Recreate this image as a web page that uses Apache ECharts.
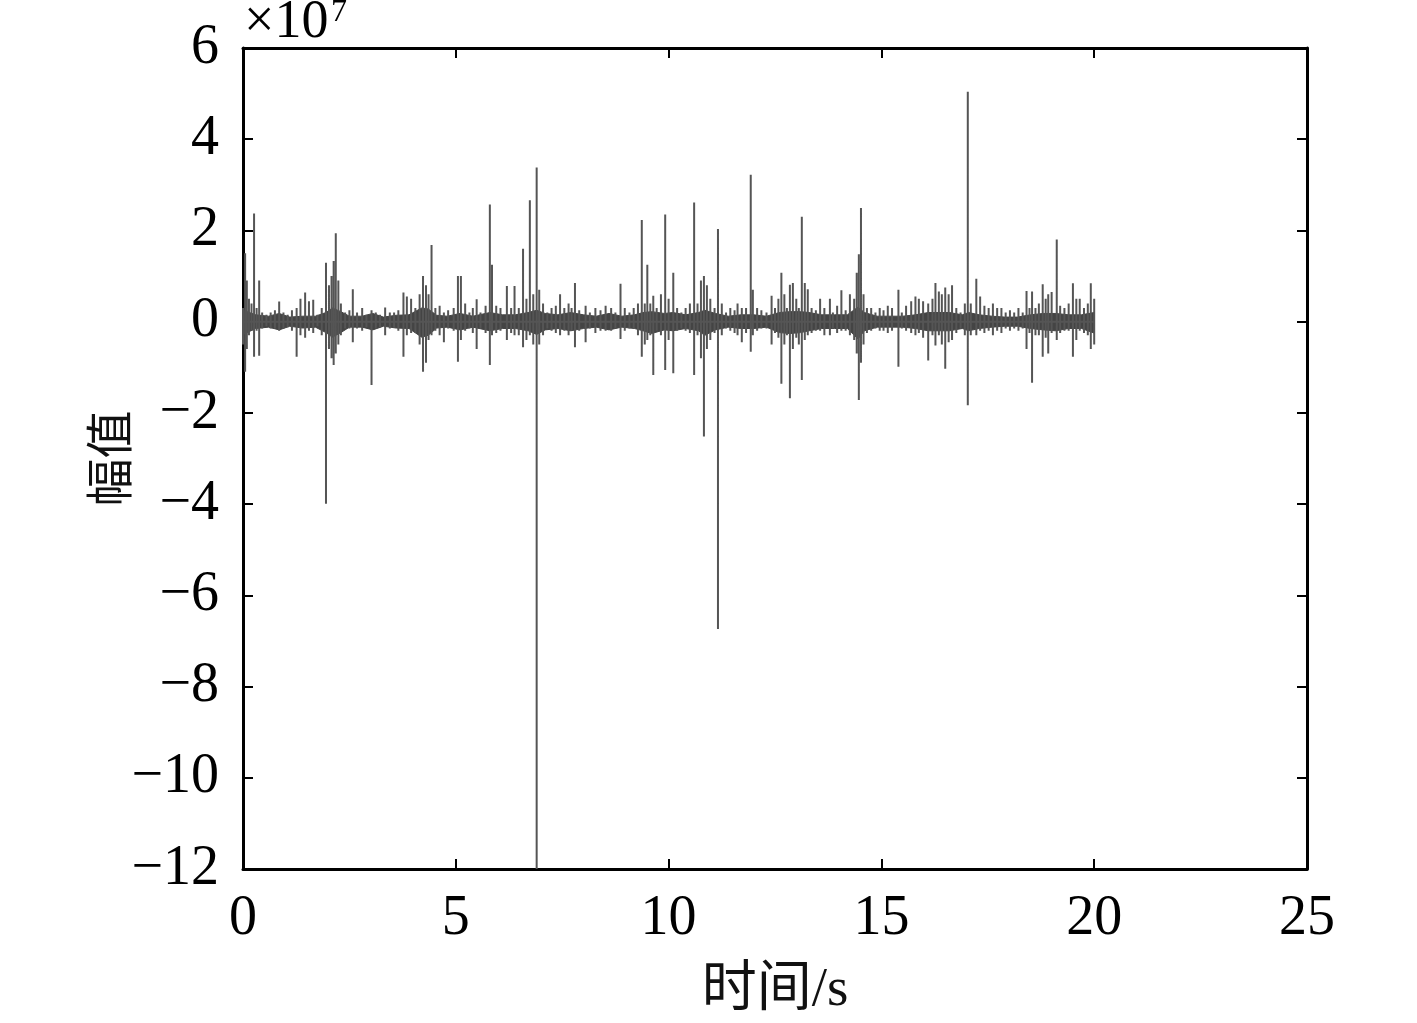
<!DOCTYPE html>
<html><head><meta charset="utf-8">
<script src="https://cdn.jsdelivr.net/npm/echarts@6/dist/echarts.min.js"></script>
<style>html,body{margin:0;padding:0;background:#fff;overflow:hidden}#c{width:1417px;height:1023px}</style>
</head><body><div id="c"></div>
<script>
// Time of each spike (s)
const times = [
0.00,0.05,0.09,0.14,0.20,0.26,0.32,0.38,0.45,0.55,0.65,0.75,0.85,0.95,
1.05,1.15,1.26,1.35,1.46,1.55,1.65,1.75,1.85,1.95,
2.02,2.08,2.13,2.18,2.24,2.30,2.40,2.50,2.58,2.68,2.80,2.90,
3.02,3.12,3.22,3.34,3.45,3.55,3.65,3.77,3.85,3.95,
4.05,4.15,4.23,4.30,4.36,4.43,4.52,4.62,4.72,4.82,4.95,
5.05,5.12,5.22,5.32,5.40,5.49,5.58,5.70,5.80,5.85,5.95,
6.05,6.20,6.30,6.38,6.48,6.58,6.66,6.74,6.82,6.90,6.96,
7.05,7.15,7.25,7.35,7.45,7.55,7.65,7.72,7.80,7.90,
8.05,8.15,8.28,8.40,8.52,8.65,8.75,8.87,8.97,
9.08,9.18,9.28,9.37,9.44,9.50,9.57,9.64,9.72,9.82,9.92,
10.00,10.11,10.20,10.30,10.40,10.50,10.60,10.68,10.76,10.83,10.90,10.98,
11.08,11.16,11.25,11.35,11.45,11.55,11.62,11.72,11.82,11.93,11.98,
12.08,12.18,12.30,12.42,12.50,12.58,12.65,12.72,12.78,12.85,12.92,
13.00,13.06,13.13,13.20,13.27,13.36,13.46,13.56,13.66,13.79,13.86,13.96,
14.06,14.16,14.26,14.36,14.42,14.47,14.52,14.58,14.66,14.76,14.86,14.96,
15.05,15.15,15.25,15.40,15.48,15.58,15.70,15.80,15.88,15.98,
16.10,16.20,16.27,16.35,16.42,16.50,16.58,16.66,16.76,16.86,16.96,
17.03,17.10,17.23,17.32,17.42,17.52,17.62,17.72,17.82,17.92,
18.02,18.12,18.22,18.32,18.41,18.48,18.54,18.62,18.70,18.79,18.86,18.92,
19.00,19.12,19.20,19.30,19.40,19.50,19.58,19.66,19.76,19.85,19.92,20.00
];
// Positive excursion of each spike (x10^7)
const peaks = [
0.3,1.5,0.9,0.5,0.4,2.37,0.3,0.9,0.2,0.15,0.2,0.25,0.44,0.2,
0.15,0.25,0.3,0.5,0.64,0.45,0.48,0.15,0.3,1.29,
0.8,1.0,1.33,1.94,0.9,0.4,0.2,0.25,0.71,0.2,0.3,0.15,
0.25,0.2,0.15,0.31,0.2,0.2,0.25,0.64,0.55,0.5,
0.3,0.6,1.0,0.8,0.6,1.68,0.3,0.35,0.2,0.25,0.3,
1.0,1.0,0.4,0.2,0.3,0.49,0.2,0.35,2.57,1.25,0.35,
0.3,0.78,0.3,0.78,0.3,1.6,0.5,2.66,0.6,3.38,0.7,
0.4,0.2,0.3,0.35,0.6,0.3,0.4,0.3,0.85,0.25,
0.35,0.2,0.3,0.25,0.35,0.3,0.2,0.83,0.3,
0.2,0.3,0.4,2.23,0.4,1.25,0.4,0.57,0.3,0.6,2.35,
0.5,1.07,0.3,0.2,0.3,0.4,2.61,0.4,0.9,1.0,0.8,0.5,
0.3,2.03,0.4,0.2,0.3,0.25,0.4,0.3,0.3,3.22,0.7,
0.3,0.25,0.2,0.57,0.3,0.5,1.07,0.6,0.3,0.81,0.85,
0.5,0.3,2.3,0.85,0.71,0.3,0.25,0.5,0.3,0.5,0.2,0.35,
0.69,0.25,0.6,0.5,1.07,1.48,2.49,0.6,0.3,0.3,0.2,0.3,
0.25,0.35,0.3,0.7,0.2,0.35,0.45,0.55,0.5,0.45,
0.4,0.5,0.85,0.66,0.6,0.75,0.6,0.8,0.3,0.2,0.4,
5.04,0.4,0.94,0.55,0.35,0.3,0.4,0.3,0.3,0.2,
0.25,0.2,0.3,0.2,0.67,0.3,0.66,0.3,0.4,0.82,0.5,0.6,
0.65,1.8,0.35,0.3,0.4,0.84,0.5,0.5,0.3,0.4,0.84,0.5
];
// Negative excursion of each spike (x10^7)
const troughs = [
-0.5,-1.1,-0.6,-0.3,-0.2,-0.77,-0.2,-0.75,-0.15,-0.1,-0.15,-0.15,-0.2,-0.15,
-0.12,-0.2,-0.77,-0.3,-0.35,-0.2,-0.25,-0.1,-0.3,-3.99,
-0.6,-0.8,-0.95,-0.7,-0.5,-0.3,-0.15,-0.15,-0.45,-0.15,-0.2,-0.12,
-1.39,-0.15,-0.12,-0.3,-0.15,-0.12,-0.2,-0.77,-0.3,-0.25,
-0.25,-0.5,-1.1,-0.9,-0.4,-0.3,-0.2,-0.3,-0.45,-0.15,-0.2,
-0.88,-0.4,-0.2,-0.15,-0.25,-0.6,-0.15,-0.25,-0.95,-0.3,-0.25,
-0.2,-0.4,-0.25,-0.3,-0.3,-0.56,-0.4,-0.3,-0.5,-12,-0.5,
-0.3,-0.15,-0.2,-0.25,-0.3,-0.2,-0.3,-0.2,-0.56,-0.2,
-0.45,-0.15,-0.25,-0.2,-0.2,-0.2,-0.15,-0.38,-0.2,
-0.15,-0.15,-0.3,-0.77,-0.5,-0.4,-0.3,-1.17,-0.2,-0.3,-1.06,
-0.4,-1.13,-0.2,-0.15,-0.2,-0.25,-1.17,-0.3,-0.8,-2.52,-0.6,-0.4,
-0.25,-6.74,-0.3,-0.15,-0.2,-0.25,-0.3,-0.45,-0.25,-0.66,-0.3,
-0.2,-0.15,-0.15,-0.5,-0.25,-0.35,-1.36,-0.5,-0.3,-1.68,-0.6,
-0.35,-0.5,-1.28,-0.4,-0.3,-0.25,-0.2,-0.2,-0.3,-0.3,-0.15,-0.25,
-0.2,-0.2,-0.3,-0.4,-0.7,-1.72,-0.9,-0.5,-0.25,-0.2,-0.15,-0.2,
-0.2,-0.25,-0.2,-0.99,-0.15,-0.2,-0.25,-0.3,-0.25,-0.35,
-0.85,-0.3,-0.52,-0.3,-0.5,-1.03,-0.45,-0.4,-0.25,-0.15,-0.3,
-1.83,-0.3,-0.3,-0.2,-0.25,-0.2,-0.3,-0.2,-0.25,-0.15,
-0.2,-0.15,-0.2,-0.15,-0.6,-0.25,-1.34,-0.3,-0.3,-0.77,-0.35,-0.7,
-0.25,-0.4,-0.25,-0.2,-0.2,-0.77,-0.4,-0.2,-0.25,-0.3,-0.6,-0.5
];
// Envelope of the dense background noise band (s, x10^7)
const bandTimes = [
0,0.3,0.6,0.85,1.1,1.4,1.7,1.95,2.1,2.3,
2.5,2.8,3.05,3.3,3.6,3.9,4.2,4.35,4.55,4.8,
5.1,5.4,5.8,6.1,6.4,6.7,6.9,7.1,7.4,7.7,
8.0,8.3,8.6,8.9,9.2,9.4,9.6,9.9,10.1,10.4,
10.7,10.85,11.1,11.4,11.7,12.0,12.3,12.6,12.85,13.1,
13.3,13.6,13.9,14.2,14.45,14.6,14.9,15.2,15.5,15.8,
16.1,16.4,16.6,16.9,17.05,17.3,17.6,17.9,18.2,18.5,
18.8,19.1,19.4,19.7,20.0
];
const bandHi = [
0.25,0.15,0.12,0.18,0.1,0.12,0.12,0.2,0.3,0.22,
0.12,0.12,0.18,0.1,0.14,0.15,0.3,0.28,0.14,0.12,
0.18,0.12,0.2,0.15,0.15,0.2,0.25,0.18,0.15,0.2,
0.15,0.12,0.18,0.12,0.15,0.2,0.22,0.18,0.2,0.15,
0.2,0.25,0.18,0.12,0.15,0.15,0.12,0.2,0.22,0.22,
0.2,0.15,0.15,0.15,0.32,0.2,0.12,0.12,0.12,0.15,
0.2,0.2,0.2,0.15,0.2,0.15,0.12,0.1,0.1,0.15,
0.18,0.18,0.15,0.15,0.2
];
const bandLo = [
-0.28,-0.15,-0.12,-0.18,-0.1,-0.14,-0.12,-0.24,-0.34,-0.24,
-0.12,-0.12,-0.18,-0.1,-0.14,-0.15,-0.34,-0.3,-0.14,-0.12,
-0.18,-0.12,-0.2,-0.15,-0.15,-0.2,-0.28,-0.18,-0.15,-0.2,
-0.15,-0.12,-0.18,-0.12,-0.15,-0.2,-0.26,-0.18,-0.2,-0.15,
-0.2,-0.3,-0.18,-0.12,-0.15,-0.15,-0.12,-0.24,-0.26,-0.24,
-0.2,-0.15,-0.15,-0.15,-0.38,-0.2,-0.12,-0.12,-0.12,-0.15,
-0.2,-0.2,-0.2,-0.15,-0.2,-0.15,-0.12,-0.1,-0.1,-0.15,
-0.18,-0.2,-0.15,-0.15,-0.25
];
const xTicks = [0, 5, 10, 15, 20, 25];
const yTicks = [-12, -10, -8, -6, -4, -2, 0, 2, 4, 6];
const xName = '时间/s';
const yName = '幅值';

const spikes = [];
for (let i = 0; i < times.length; i++) {
  spikes.push([times[i], 0], [times[i], peaks[i]], [times[i], troughs[i]], [times[i], 0]);
}
const upper = bandTimes.map((t, i) => [t, bandHi[i]]);
const lower = bandTimes.map((t, i) => [t, bandLo[i]]);

const serif = '"Liberation Serif","Times New Roman",serif';
const mixed = '"Liberation Serif","Noto Sans CJK SC",serif';
const axisLine = { show: true, onZero: false, lineStyle: { color: '#000', width: 3 } };
const tick = { show: true, inside: true, length: 10, lineStyle: { color: '#000', width: 2 } };
const bandColor = '#444';

const chart = echarts.init(document.getElementById('c'), null, { renderer: 'canvas' });
chart.setOption({
  backgroundColor: '#fff',
  animation: false,
  grid: { left: 243, right: 110, top: 48, bottom: 143, containLabel: false },
  graphic: [
    { type: 'text', left: 244, top: -4, style: { text: '×10', font: '54px ' + serif, fill: '#000' } },
    { type: 'text', left: 331, top: -3, style: { text: '7', font: '32px ' + serif, fill: '#000' } }
  ],
  xAxis: [{
    type: 'value', position: 'bottom', min: xTicks[0], max: xTicks[xTicks.length - 1], interval: 5,
    axisLine: axisLine, axisTick: tick, splitLine: { show: false },
    axisLabel: { fontSize: 56, fontFamily: serif, color: '#000', margin: 22 },
    name: xName, nameLocation: 'middle', nameGap: 94, nameMoveOverlap: false,
    nameTextStyle: { fontSize: 55, fontFamily: mixed, color: '#111' }
  }, {
    type: 'value', position: 'top', min: xTicks[0], max: xTicks[xTicks.length - 1], interval: 5,
    axisLine: axisLine, axisTick: tick, splitLine: { show: false }, axisLabel: { show: false }
  }],
  yAxis: [{
    type: 'value', position: 'left', min: yTicks[0], max: yTicks[yTicks.length - 1], interval: 2,
    axisLine: axisLine, axisTick: tick, splitLine: { show: false },
    axisLabel: { fontSize: 56, fontFamily: serif, color: '#000', margin: 24,
      formatter: v => String(v).replace('-', '\u2212') },
    name: yName, nameLocation: 'middle', nameGap: 110, nameRotate: 90, nameMoveOverlap: false,
    nameTextStyle: { fontSize: 48, fontFamily: '"Noto Sans CJK SC",sans-serif', color: '#111' }
  }, {
    type: 'value', position: 'right', min: yTicks[0], max: yTicks[yTicks.length - 1], interval: 2,
    axisLine: axisLine, axisTick: tick, splitLine: { show: false }, axisLabel: { show: false }
  }],
  series: [{
    type: 'line', data: upper, symbol: 'none', sampling: null,
    lineStyle: { color: bandColor, width: 1 }, areaStyle: { color: bandColor, opacity: 1, origin: 0 }, z: 1
  }, {
    type: 'line', data: lower, symbol: 'none', sampling: null,
    lineStyle: { color: bandColor, width: 1 }, areaStyle: { color: bandColor, opacity: 1, origin: 0 }, z: 1
  }, {
    type: 'line', data: spikes, symbol: 'none', sampling: null,
    lineStyle: { color: '#555', width: 2 }, z: 2
  }]
});
</script>
</body></html>
